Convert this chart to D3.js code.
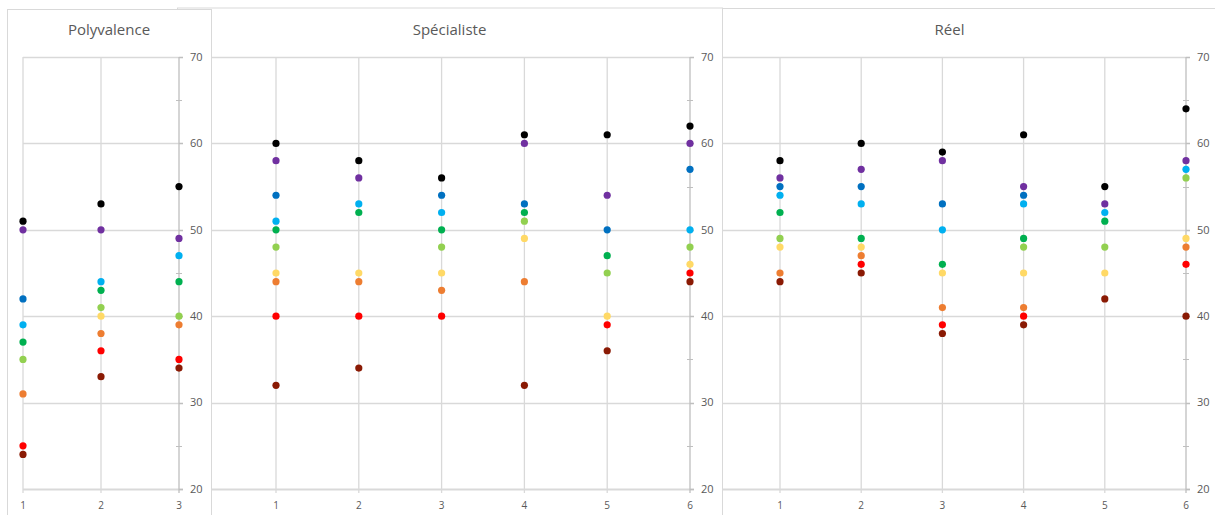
<!DOCTYPE html>
<html>
<head>
<meta charset="utf-8">
<script src="https://cdn.jsdelivr.net/npm/d3@7"></script>
<style>
  html, body { margin: 0; padding: 0; background: #ffffff; }
  svg { display: block; }
</style>
</head>
<body>
<svg id="chart" width="1215" height="515"></svg>
<script>
// ---------- data ----------
const seriesColors = ["#000000", "#7030A0", "#0070C0", "#00B0F0", "#00B050",
                      "#92D050", "#FFD966", "#ED7D31", "#FF0000", "#8A1A04"];

const panelTitles = ["Polyvalence", "Spécialiste", "Réel"];

const polyX = [1, 2, 3];
const polyValues = [
  [51, 53, 55],
  [50, 50, 49],
  [42, null, null],
  [39, 44, 47],
  [37, 43, 44],
  [35, 41, 40],
  [null, 40, null],
  [31, 38, 39],
  [25, 36, 35],
  [24, 33, 34]
];

const specX = [1, 2, 3, 4, 5, 6];
const specValues = [
  [60, 58, 56, 61, 61, 62],
  [58, 56, null, 60, 54, 60],
  [54, null, 54, 53, 50, 57],
  [51, 53, 52, null, null, 50],
  [50, 52, 50, 52, 47, null],
  [48, null, 48, 51, 45, 48],
  [45, 45, 45, 49, 40, 46],
  [44, 44, 43, 44, null, null],
  [40, 40, 40, null, 39, 45],
  [32, 34, null, 32, 36, 44]
];

const reelX = [1, 2, 3, 4, 5, 6];
const reelValues = [
  [58, 60, 59, 61, 55, 64],
  [56, 57, 58, 55, 53, 58],
  [55, 55, 53, 54, null, null],
  [54, 53, 50, 53, 52, 57],
  [52, 49, 46, 49, 51, null],
  [49, null, null, 48, 48, 56],
  [48, 48, 45, 45, 45, 49],
  [45, 47, 41, 41, null, 48],
  [null, 46, 39, 40, null, 46],
  [44, 45, 38, 39, 42, 40]
];

const yTicks = [20, 30, 40, 50, 60, 70];
const yMinorTicks = [25, 35, 45, 55, 65];

// ---------- layout ----------
const svg = d3.select("#chart");
const panels = [
  { title: panelTitles[0], xs: polyX, vals: polyValues, frame: [7, 211], top: 9, xDom: [1, 3], xRange: [23, 179] },
  { title: panelTitles[1], xs: specX, vals: specValues, frame: [177, 722], top: 7.5, xDom: [0, 6], xRange: [193.2, 690] },
  { title: panelTitles[2], xs: reelX, vals: reelValues, frame: [683, 1216], top: 8, xDom: [0, 6], xRange: [698.8, 1186] }
];

const y = d3.scaleLinear().domain([20, 70]).range([489, 57]);
const gridColor = "#d9d9d9";
const axisColor = "#bfbfbf";
const textColor = "#595959";
const font = "'Open Sans', 'Liberation Sans', sans-serif";

// draw back-to-front: Réel, Spécialiste, Polyvalence
[2, 1, 0].forEach(i => {
  const p = panels[i];
  const g = svg.append("g");
  const x = d3.scaleLinear().domain(p.xDom).range(p.xRange);
  const axisX = x(p.xDom[1]);
  const left = p.frame[0] + 0.5;

  // frame
  g.append("rect")
    .attr("x", p.frame[0] + 0.5).attr("y", p.top + 0.5)
    .attr("width", p.frame[1] - p.frame[0]).attr("height", 600)
    .attr("fill", "#ffffff").attr("stroke", gridColor).attr("stroke-width", 1);

  const clip = g.append("g");

  // horizontal gridlines
  clip.selectAll("line.h").data(yTicks.filter(t => t > 20)).join("line")
    .attr("x1", Math.max(x(p.xDom[0]), left)).attr("x2", axisX + 4)
    .attr("y1", d => Math.round(y(d)) + 0.5).attr("y2", d => Math.round(y(d)) + 0.5)
    .attr("stroke", gridColor).attr("stroke-width", 1.3);

  // vertical gridlines
  const vTicks = d3.range(Math.max(1, p.xDom[0]), p.xDom[1]);
  clip.selectAll("line.v").data(vTicks).join("line")
    .attr("x1", d => x(d)).attr("x2", d => x(d))
    .attr("y1", y(70)).attr("y2", y(20) + 4)
    .attr("stroke", gridColor).attr("stroke-width", 1.3);

  // x axis line
  clip.append("line")
    .attr("x1", Math.max(x(p.xDom[0]), left)).attr("x2", axisX + 4)
    .attr("y1", y(20) + 0.5).attr("y2", y(20) + 0.5)
    .attr("stroke", gridColor).attr("stroke-width", 1.8);

  // right y axis
  g.append("line")
    .attr("x1", axisX).attr("x2", axisX)
    .attr("y1", y(70)).attr("y2", y(20) + 4)
    .attr("stroke", axisColor).attr("stroke-width", 1.3);
  g.selectAll("line.minor").data(yMinorTicks).join("line")
    .attr("x1", axisX - 3).attr("x2", axisX + 3)
    .attr("y1", d => Math.round(y(d)) + 0.5).attr("y2", d => Math.round(y(d)) + 0.5)
    .attr("stroke", axisColor).attr("stroke-width", 1);
  g.selectAll("line.major").data(yTicks).join("line")
    .attr("x1", axisX).attr("x2", axisX + 4)
    .attr("y1", d => Math.round(y(d)) + 0.5).attr("y2", d => Math.round(y(d)) + 0.5)
    .attr("stroke", axisColor).attr("stroke-width", 1.3);

  // y tick labels
  g.selectAll("text.yl").data(yTicks).join("text")
    .attr("x", axisX + 11).attr("y", d => y(d))
    .attr("dy", "0.35em")
    .attr("font-family", font).attr("font-size", 11)
    .attr("fill", textColor)
    .text(d => d);

  // x tick labels
  g.selectAll("text.xl").data(p.xs).join("text")
    .attr("x", d => x(d)).attr("y", 509)
    .attr("text-anchor", "middle")
    .attr("font-family", font).attr("font-size", 10)
    .attr("fill", textColor)
    .text(d => d);

  // title
  g.append("text")
    .attr("x", (p.frame[0] + p.frame[1]) / 2).attr("y", 35)
    .attr("text-anchor", "middle")
    .attr("font-family", font).attr("font-size", 15)
    .attr("fill", textColor)
    .text(p.title);

  // points
  p.vals.forEach((series, si) => {
    const pts = series.map((v, k) => ({ x: p.xs[k], v })).filter(d => d.v !== null);
    g.selectAll(null).data(pts).join("circle")
      .attr("cx", d => x(d.x)).attr("cy", d => y(d.v))
      .attr("r", 3.6)
      .attr("fill", seriesColors[si]);
  });
});
</script>
</body>
</html>
